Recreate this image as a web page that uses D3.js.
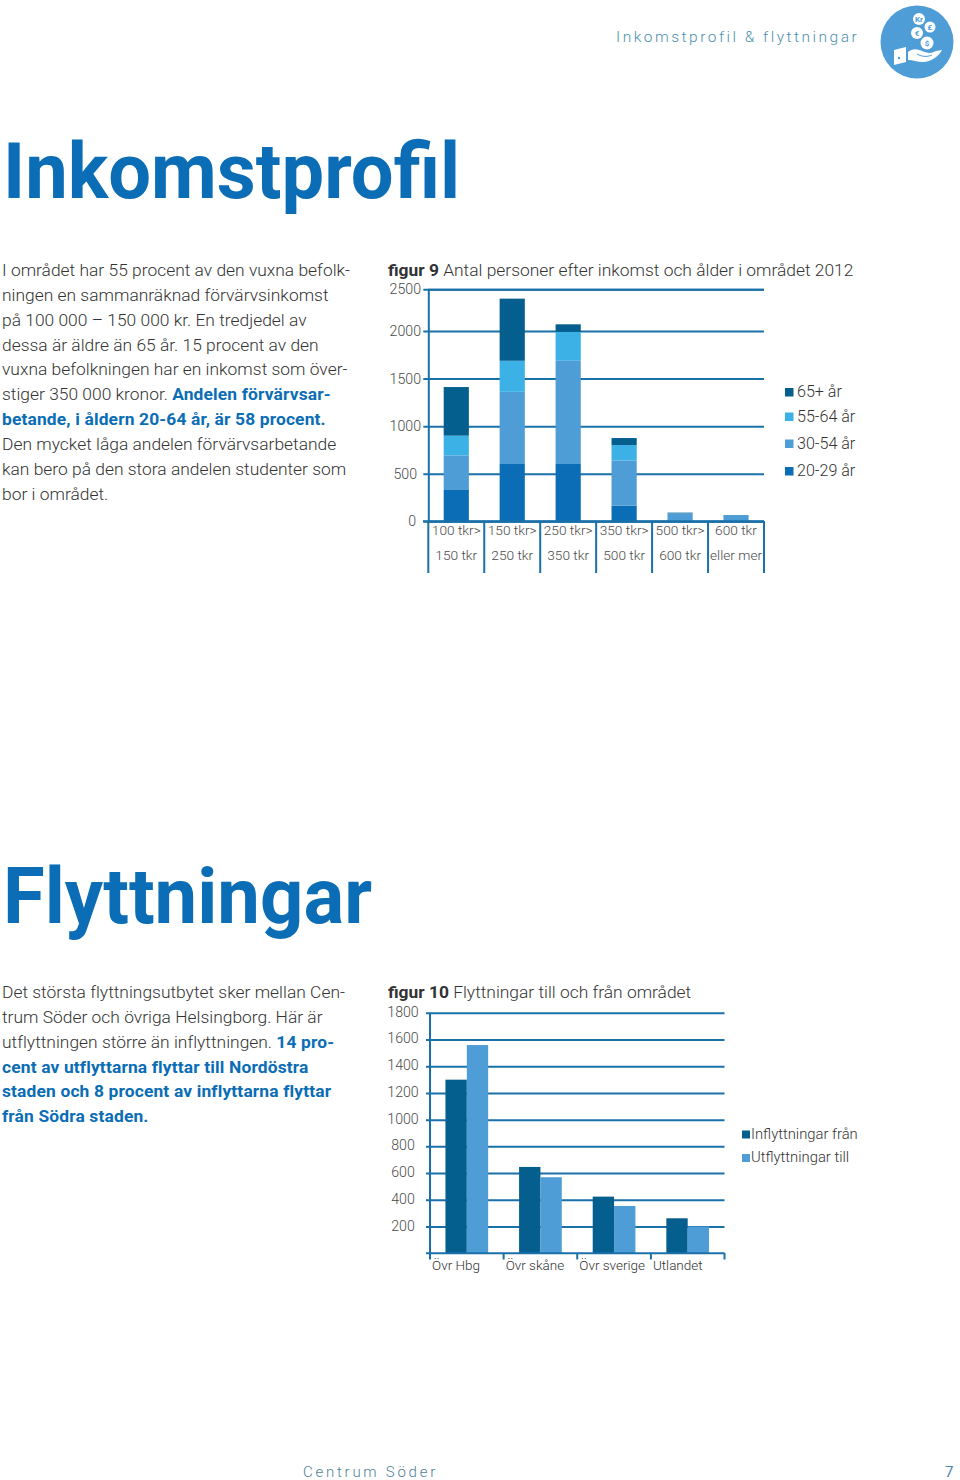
<!DOCTYPE html>
<html><head><meta charset="utf-8">
<script src="https://cdnjs.cloudflare.com/ajax/libs/d3/7.8.5/d3.min.js"></script>
<style>html,body{margin:0;padding:0;background:#fff}svg{display:block}text{font-family:Roboto,sans-serif}</style>
</head><body><svg id="c" width="960" height="1480"></svg>
<script>
// ---- Figure 9 data
const incomeTop = ["100 tkr>","150 tkr>","250 tkr>","350 tkr>","500 tkr>","600 tkr"];
const incomeBottom = ["150 tkr","250 tkr","350 tkr","500 tkr","600 tkr","eller mer"];
const age2029 = [329,602,602,164,0,0];
const age3054 = [364,759,1085,476,85,66];
const age5564 = [207,326,304,161,0,0];
const age65 = [511,701,89,74,6,0];
const ageNames = ["65+ år","55-64 år","30-54 år","20-29 år"];
const ageTicks = [0,500,1000,1500,2000,2500];
// ---- Figure 10 data
const moveCats = ["Övr Hbg","Övr skåne","Övr sverige","Utlandet"];
const moveIn = [1299,646,424,262];
const moveOut = [1558,569,354,200];
const moveNames = ["Inflyttningar från","Utflyttningar till"];
const moveTicks = [200,400,600,800,1000,1200,1400,1600,1800];
// ---- Text
const text1 = [
 [["I området har 55 procent av den vuxna befolk-",0]],
 [["ningen en sammanräknad förvärvsinkomst",0]],
 [["på 100 000 – 150 000 kr. En tredjedel av",0]],
 [["dessa är äldre än 65 år. 15 procent av den",0]],
 [["vuxna befolkningen har en inkomst som över-",0]],
 [["stiger 350 000 kronor. ",0],["Andelen förvärvsar-",1]],
 [["betande, i åldern 20-64 år, är 58 procent.",1]],
 [["Den mycket låga andelen förvärvsarbetande",0]],
 [["kan bero på den stora andelen studenter som",0]],
 [["bor i området.",0]]
];
const text2 = [
 [["Det största flyttningsutbytet sker mellan Cen-",0]],
 [["trum Söder och övriga Helsingborg. Här är",0]],
 [["utflyttningen större än inflyttningen. ",0],["14 pro-",1]],
 [["cent av utflyttarna flyttar till Nordöstra",1]],
 [["staden och 8 procent av inflyttarna flyttar",1]],
 [["från Södra staden.",1]]
];
const blue="#0a6db5", line="#1a70a8", dark="#045f8f", sky="#3bb1e6", mid="#4f9dd6", txt="#4a4a4a", head="#4d8fae";
const svg=d3.select("#c");

function para(lines,y0){
  lines.forEach((l,i)=>{
    const t=svg.append("text").attr("x",2).attr("y",y0+i*24.85).attr("font-size",17.4);
    l.forEach(s=>t.append("tspan").text(s[0]).attr("font-weight",s[1]?700:300).attr("letter-spacing",s[1]?0.15:0.01).attr("fill",s[1]?blue:"#333"));
  });
}
function figTitle(b,r,y){
  const t=svg.append("text").attr("x",388).attr("y",y).attr("font-size",17.4);
  t.append("tspan").text(b).attr("font-weight",700).attr("fill","#333");
  t.append("tspan").text(" "+r).attr("font-weight",300).attr("fill","#333");
}
function big(s,y,tl){svg.append("text").attr("x",3).attr("y",y).attr("font-size",77).attr("font-weight",700).attr("fill",blue).attr("textLength",tl).attr("lengthAdjust","spacingAndGlyphs").text(s);}

// header
svg.append("text").attr("x",616).attr("y",42).attr("font-size",15.5).attr("font-weight",300).attr("letter-spacing",2.5).attr("fill",head).text("Inkomstprofil & flyttningar");
const ic=svg.append("g").attr("transform","translate(917,42)");
ic.append("circle").attr("r",36.5).attr("fill",mid);
[[2,-23,6,"Kr"],[13,-15,5.5,"£"],[0,-9,6,"€"],[10,1,6.5,"$"]].forEach(c=>{
  ic.append("circle").attr("cx",c[0]).attr("cy",c[1]).attr("r",c[2]).attr("fill","#fff");
  ic.append("text").attr("x",c[0]).attr("y",c[1]+2.8).attr("text-anchor","middle").attr("font-size",8).attr("font-weight",700).attr("fill",mid).text(c[3]);
});
ic.append("path").attr("d","M-23,8 L-11,5 L-11,20 L-23,23 Z").attr("fill","#fff");
ic.append("path").attr("d","M-9,10 C-4,6 0,7 5,9 C10,11 14,12 19,9 L25,8 C22,14 14,20 6,20 C0,20 -4,18 -9,18 Z").attr("fill","#fff");
ic.append("path").attr("d","M0,12 C5,15 11,15 15,13").attr("fill","none").attr("stroke",mid).attr("stroke-width",1);
ic.append("circle").attr("cx",-18).attr("cy",16).attr("r",1.2).attr("fill",mid);

big("Inkomstprofil",198,457);
big("Flyttningar",923,369);
para(text1,276);
para(text2,998);
figTitle("figur 9","Antal personer efter inkomst och ålder i området 2012",276);
figTitle("figur 10","Flyttningar till och från området",998);

function styleY(g,x1,tx,dy){
  g.select(".domain").attr("stroke",line).attr("stroke-width",2);
  g.selectAll(".tick line").attr("x1",x1).attr("stroke",line).attr("stroke-width",2);
  g.selectAll(".tick text").attr("x",tx).attr("y",dy).attr("text-anchor","middle").attr("font-size",14.2).attr("font-weight",300).attr("font-family","Roboto").attr("fill",txt);
}

// ---- Figure 9
const y9=d3.scaleLinear().domain([0,2000,2500]).range([521.3,331,289.3]);
const x9=d3.scaleBand().domain(incomeTop).range([428.3,764]).paddingInner(.55).paddingOuter(.275);
const axL9=svg.append("g").attr("transform","translate(428.3,0)")
  .call(d3.axisLeft(y9).tickValues(ageTicks).tickFormat(d3.format("d")).tickSize(-(764-428.3)));
styleY(axL9,-5,-23,0);
axL9.selectAll(".tick text").filter(d=>d===0).attr("x",-16);
const series9=[[age2029,blue],[age3054,mid],[age5564,sky],[age65,dark]];
const base=incomeTop.map(()=>0);
series9.forEach(([vals,col])=>{
  svg.append("g").selectAll("rect").data(vals).join("rect")
   .attr("x",(d,i)=>x9(incomeTop[i])).attr("width",x9.bandwidth())
   .attr("y",(d,i)=>y9(base[i]+d)).attr("height",(d,i)=>y9(base[i])-y9(base[i]+d)).attr("fill",col);
  vals.forEach((v,i)=>base[i]+=v);
});
const ax9=svg.append("g").attr("transform","translate(0,521.3)")
  .call(d3.axisBottom(x9).tickSize(0));
ax9.select(".domain").remove();
ax9.selectAll("text").attr("y",9.2).attr("dy","0.35em").attr("font-size",13.7).attr("font-weight",300).attr("font-family","Roboto").attr("fill",txt);
ax9.selectAll(".tick").append("text").attr("y",34.2).attr("dy","0.35em").attr("font-size",13.7).attr("font-weight",300).attr("font-family","Roboto").attr("fill",txt).attr("text-anchor","middle").text((d,i)=>incomeBottom[i]);
const sep9=d3.range(7).map(i=>428.3+i*x9.step());
svg.append("g").selectAll("line").data(sep9).join("line").attr("x1",d=>d).attr("x2",d=>d).attr("y1",521).attr("y2",573).attr("stroke",line).attr("stroke-width",2);
svg.append("line").attr("x1",423).attr("x2",764).attr("y1",521.3).attr("y2",521.3).attr("stroke",line).attr("stroke-width",2);
const lc9=[dark,sky,mid,blue], ly9=[391.5,416,443,470.5];
ageNames.forEach((n,i)=>{
  svg.append("rect").attr("x",785).attr("y",ly9[i]-3.5).attr("width",8.5).attr("height",8.5).attr("fill",lc9[i]);
  svg.append("text").attr("x",797).attr("y",ly9[i]+5.5).attr("font-size",16.1).attr("font-weight",300).attr("fill","#333").text(n);
});

// ---- Figure 10
const y10=d3.scaleLinear().domain([0,1800]).range([1253.3,1012.7]);
const x10=d3.scaleBand().domain(moveCats).range([430,724.5]).paddingInner(.42).paddingOuter(.21);
const axL10=svg.append("g").attr("transform","translate(430,0)")
  .call(d3.axisLeft(y10).tickValues(moveTicks).tickFormat(d3.format("d")).tickSize(-(724.5-430)));
styleY(axL10,-4,-27,-1);
axL10.select(".domain").attr("d","M0,1012.7V1253.3");
const x10b=d3.scaleBand().domain([0,1]).range([0,x10.bandwidth()]);
[[moveIn,dark,0],[moveOut,mid,1]].forEach(([vals,col,k])=>{
  svg.append("g").selectAll("rect").data(vals).join("rect")
   .attr("x",(d,i)=>x10(moveCats[i])+x10b(k)).attr("width",x10b.bandwidth())
   .attr("y",d=>y10(d)).attr("height",d=>y10(0)-y10(d)).attr("fill",col);
});
const ax10=svg.append("g").attr("transform","translate(0,1253.3)")
  .call(d3.axisBottom(x10).tickSize(0));
ax10.select(".domain").remove();
ax10.selectAll("text").attr("text-anchor","start").attr("x",-x10.step()/2+2).attr("y",11.5).attr("dy","0.35em").attr("font-size",13.5).attr("font-weight",300).attr("font-family","Roboto").attr("fill","#333");
ax10.selectAll(".tick").attr("transform",d=>`translate(${x10(d)+x10.bandwidth()/2},0)`);
const sep10=d3.range(5).map(i=>430+i*x10.step());
svg.append("g").selectAll("line").data(sep10).join("line").attr("x1",d=>d).attr("x2",d=>d).attr("y1",1253).attr("y2",1259.5).attr("stroke",line).attr("stroke-width",2);
svg.append("line").attr("x1",426).attr("x2",724.5).attr("y1",1253.3).attr("y2",1253.3).attr("stroke",line).attr("stroke-width",2);
const lc10=[dark,mid], ly10=[1134,1157.5];
moveNames.forEach((n,i)=>{
  svg.append("rect").attr("x",742).attr("y",ly10[i]-3.5).attr("width",8).attr("height",8).attr("fill",lc10[i]);
  svg.append("text").attr("x",751).attr("y",ly10[i]+4.5).attr("font-size",14.8).attr("font-weight",300).attr("fill","#333").text(n);
});

// footer
svg.append("text").attr("x",303).attr("y",1476.5).attr("font-size",15).attr("font-weight",300).attr("letter-spacing",2.75).attr("fill","#4f8299").text("Centrum Söder");
svg.append("text").attr("x",945).attr("y",1476.5).attr("font-size",15).attr("font-weight",400).attr("fill","#3f86ab").text("7");
</script></body></html>
